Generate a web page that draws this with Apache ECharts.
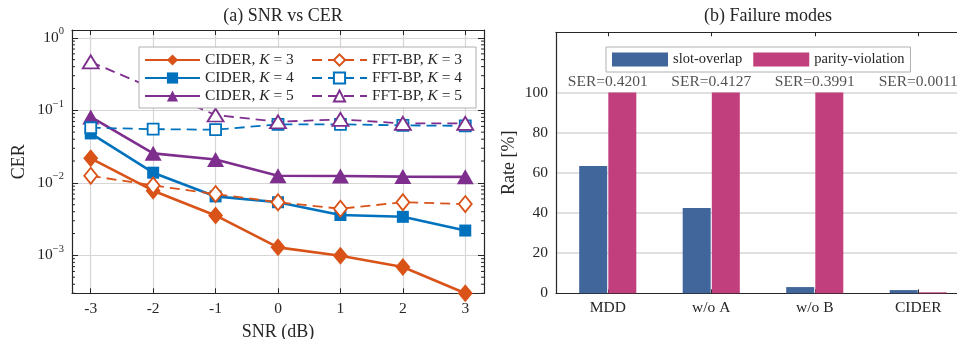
<!DOCTYPE html>
<html>
<head>
<meta charset="utf-8">
<script src="https://cdn.jsdelivr.net/npm/echarts@6/dist/echarts.min.js"></script>
<style>
  html, body { margin: 0; padding: 0; background: #fff; }
  #chart { width: 957px; height: 339px; }
</style>
</head>
<body>
<div id="chart"></div>
<script>
// (a) SNR vs CER
const snr = [-3, -2, -1, 0, 1, 2, 3]
const ciderK3 = [0.0218, 0.0078, 0.00355, 0.00129, 0.00099, 0.00069, 0.0003]
const ciderK4 = [0.048, 0.0138, 0.0065, 0.0054, 0.0036, 0.0034, 0.0022]
const ciderK5 = [0.081, 0.0255, 0.021, 0.0125, 0.0124, 0.0122, 0.0121]
const fftK3 = [0.0125, 0.0092, 0.0070, 0.0054, 0.0044, 0.0054, 0.0051]
const fftK4 = [0.0575, 0.055, 0.054, 0.064, 0.064, 0.062, 0.061]
const fftK5 = [0.465, 0.2, 0.086, 0.0695, 0.075, 0.066, 0.066]

// (b) Failure modes
const methods = ['MDD', 'w/o A', 'w/o B', 'CIDER']
const slotOverlap = [63.4, 42.5, 3.1, 1.6]
const parityViolation = [100, 100, 100, 0.5]
const serValues = ['0.4201', '0.4127', '0.3991', '0.0011']

// minor ticks of the log axis (2..9 in each decade)
const minorTicks = []
for (const d of [1e-4, 1e-3, 1e-2, 1e-1]) {
  for (const m of [2, 3, 4, 5, 6, 7, 8, 9]) minorTicks.push(m * d)
}

const FONT = 'Liberation Serif'
const TXT = '#262626'
const GRID = '#d6d6d6'
const ORANGE = '#D95319', BLUE = '#0072BD', PURPLE = '#7E2F8E'
const YMIN = 3e-4, YMAX = 1.28

const chart = echarts.init(document.getElementById('chart'))

function pts(vals) { return snr.map((x, i) => [x, vals[i]]) }

function ciderSeries(name, vals, color, symbol, size) {
  return {
    name, type: 'line', xAxisIndex: 0, yAxisIndex: 0, data: pts(vals), clip: false,
    symbol, symbolSize: size, showAllSymbol: true,
    lineStyle: { color, width: 2.6 },
    itemStyle: { color, borderColor: color, borderWidth: 0 },
  }
}
function fftSeries(name, vals, color, symbol, size) {
  return {
    name, type: 'line', xAxisIndex: 0, yAxisIndex: 0, data: pts(vals), clip: false,
    symbol, symbolSize: size, showAllSymbol: true,
    lineStyle: { color, width: 1.8, type: [10, 6] },
    itemStyle: { color: '#fff', borderColor: color, borderWidth: 1.8 },
  }
}

function logLabel(v) {
  const e = Math.log10(v)
  const r = Math.round(e)
  if (Math.abs(e - r) > 1e-6) return ''
  return '{b|10}{sup|' + (r === 0 ? '0' : '\u2212' + (-r)) + '}'
}

const axisText = { fontFamily: FONT, fontSize: 15.5, color: TXT }
const boxLine = { show: true, onZero: false, lineStyle: { color: TXT, width: 1.2 } }

chart.setOption({
  animation: false,
  textStyle: { fontFamily: FONT, color: TXT },
  title: [
    { text: '(a) SNR vs CER', left: 278, top: 2, textAlign: 'center',
      textStyle: { fontFamily: FONT, fontSize: 18, fontWeight: 'normal', color: TXT } },
    { text: '(b) Failure modes', left: 763, top: 2, textAlign: 'center',
      textStyle: { fontFamily: FONT, fontSize: 18, fontWeight: 'normal', color: TXT } },
  ],
  legend: [
    {
      data: ['CIDER, K = 3', 'FFT-BP, K = 3', 'CIDER, K = 4', 'FFT-BP, K = 4', 'CIDER, K = 5', 'FFT-BP, K = 5'],
      left: 139, top: 47, width: 345, orient: 'horizontal',
      itemWidth: 55, itemHeight: 14, itemGap: 2,
      padding: [5, 0, 4, 5],
      backgroundColor: '#fff', borderColor: '#b0b0b0', borderWidth: 1,
      formatter: n => n.replace('K', '{i|K}'),
      textStyle: { fontFamily: FONT, fontSize: 15.5, color: TXT, width: 104, lineHeight: 14,
        rich: { i: { fontStyle: 'italic', fontFamily: FONT, fontSize: 15.5, lineHeight: 14, color: TXT } } },
    },
    {
      data: ['slot-overlap', 'parity-violation'],
      left: 606, top: 47, orient: 'horizontal',
      itemWidth: 56, itemHeight: 14, itemGap: 11,
      padding: [5, 6, 5, 6],
      borderColor: '#b0b0b0', borderWidth: 1,
      icon: 'rect',
      textStyle: { fontFamily: FONT, fontSize: 14.5, color: TXT },
    },
  ],
  grid: [
    { left: 72, top: 30, width: 412, height: 263.3, outerBoundsMode: 'none' },
    { left: 556, top: 32.3, width: 414, height: 261, outerBoundsMode: 'none' },
  ],
  xAxis: [
    {
      type: 'value', gridIndex: 0, min: -3.3, max: 3.3, splitNumber: 6,
      name: 'SNR (dB)', nameLocation: 'middle', nameGap: 30,
      nameTextStyle: { fontFamily: FONT, fontSize: 18, color: TXT },
      axisLine: boxLine,
      axisTick: { show: true, inside: true, length: 5, lineStyle: { color: TXT } },
      axisLabel: { ...axisText, margin: 8, showMinLabel: false, showMaxLabel: false,
        formatter: v => Number.isInteger(v) ? String(v) : '' },
      splitLine: { show: true, showMinLine: false, showMaxLine: false, lineStyle: { color: GRID, width: 1.2 } },
    },
    {
      type: 'value', gridIndex: 0, min: -3.3, max: 3.3, splitNumber: 6, position: 'top',
      axisLine: boxLine,
      axisTick: { show: true, inside: true, length: 5, lineStyle: { color: TXT } },
      axisLabel: { show: false }, splitLine: { show: false },
    },
    {
      type: 'category', gridIndex: 1, data: methods,
      axisLine: boxLine,
      axisTick: { show: true, inside: true, alignWithLabel: true, length: 4, lineStyle: { color: TXT } },
      axisLabel: { ...axisText, margin: 7 },
      splitLine: { show: false },
    },
    {
      type: 'category', gridIndex: 1, data: methods, position: 'top',
      axisLine: boxLine,
      axisTick: { show: true, inside: true, alignWithLabel: true, length: 4, lineStyle: { color: TXT } },
      axisLabel: { show: false }, splitLine: { show: false },
    },
  ],
  yAxis: [
    {
      type: 'log', gridIndex: 0, min: YMIN, max: YMAX, logBase: 10,
      name: 'CER', nameLocation: 'middle', nameGap: 44,
      nameTextStyle: { fontFamily: FONT, fontSize: 18, color: TXT },
      axisLine: boxLine,
      axisTick: { show: true, inside: true, length: 6, lineStyle: { color: TXT } },
      axisLabel: { ...axisText, margin: 8, formatter: logLabel,
        rich: {
          b: { fontFamily: FONT, fontSize: 15.5, color: TXT, lineHeight: 24, verticalAlign: 'middle' },
          sup: { fontFamily: FONT, fontSize: 10.5, color: TXT, lineHeight: 12, verticalAlign: 'top' },
        } },
      splitLine: { show: true, showMinLine: false, showMaxLine: false, lineStyle: { color: GRID, width: 1.2 } },
    },
    {
      type: 'log', gridIndex: 0, min: YMIN, max: YMAX, logBase: 10, position: 'right',
      axisLine: boxLine,
      axisTick: { show: true, inside: true, length: 6, lineStyle: { color: TXT } },
      axisLabel: { show: false }, splitLine: { show: false },
    },
    {
      type: 'value', gridIndex: 1, min: 0, max: 130, interval: 20,
      name: 'Rate [%]', nameLocation: 'middle', nameGap: 38,
      nameTextStyle: { fontFamily: FONT, fontSize: 18, color: TXT },
      axisLine: boxLine,
      axisTick: { show: false },
      axisLabel: { ...axisText, margin: 8, formatter: v => v <= 100 ? String(v) : '' },
      splitLine: { show: true, showMinLine: false, showMaxLine: false,
        lineStyle: { color: [GRID, GRID, GRID, GRID, GRID, 'rgba(0,0,0,0)'], width: 1.6 } },
    },
  ],
  series: [
    {
      type: 'custom', xAxisIndex: 0, yAxisIndex: 0, silent: true, z: 3,
      data: minorTicks.filter(v => v >= YMIN && v <= YMAX).map(v => [0, v]),
      renderItem: (params, api) => {
        const cs = params.coordSys
        const y = api.coord([0, api.value(1)])[1]
        const st = { stroke: TXT, lineWidth: 1 }
        return {
          type: 'group', children: [
            { type: 'line', shape: { x1: cs.x, y1: y, x2: cs.x + 3, y2: y }, style: st },
            { type: 'line', shape: { x1: cs.x + cs.width - 3, y1: y, x2: cs.x + cs.width, y2: y }, style: st },
          ],
        }
      },
    },
    ciderSeries('CIDER, K = 3', ciderK3, ORANGE, 'diamond', [15, 18]),
    ciderSeries('CIDER, K = 4', ciderK4, BLUE, 'rect', 12),
    ciderSeries('CIDER, K = 5', ciderK5, PURPLE, 'triangle', [17, 15]),
    fftSeries('FFT-BP, K = 3', fftK3, ORANGE, 'diamond', [13, 16]),
    fftSeries('FFT-BP, K = 4', fftK4, BLUE, 'rect', 11),
    fftSeries('FFT-BP, K = 5', fftK5, PURPLE, 'triangle', [16, 13]),
    {
      name: 'slot-overlap', type: 'bar', xAxisIndex: 2, yAxisIndex: 2,
      data: slotOverlap, barWidth: 28, barGap: '4%', itemStyle: { color: '#41669B' },
    },
    {
      name: 'parity-violation', type: 'bar', xAxisIndex: 2, yAxisIndex: 2,
      data: parityViolation, barWidth: 28, barGap: '4%', itemStyle: { color: '#C13F7D' },
    },
    {
      type: 'scatter', xAxisIndex: 2, yAxisIndex: 2, symbolSize: 0, silent: true,
      data: methods.map(m => [m, 105.3]),
      label: { show: true, position: 'inside', fontFamily: FONT, fontSize: 15.5, color: TXT,
        formatter: p => 'SER=' + serValues[p.dataIndex] },
    },
  ],
})
</script>
</body>
</html>
